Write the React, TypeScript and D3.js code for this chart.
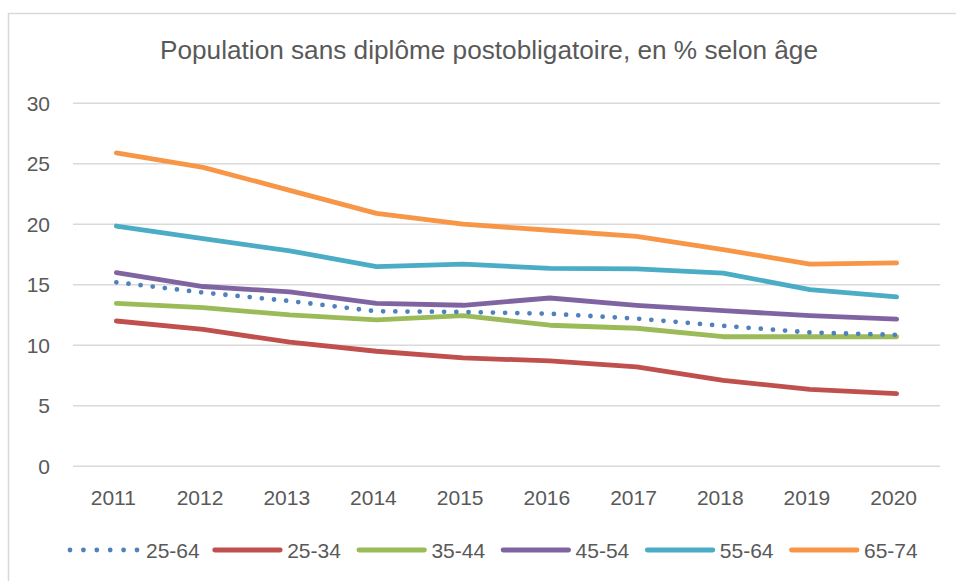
import React, { useRef, useEffect } from 'react';
import * as d3 from 'd3';

const years = ['2011', '2012', '2013', '2014', '2015', '2016', '2017', '2018', '2019', '2020'];
const seriesNames = ['25-64', '25-34', '35-44', '45-54', '55-64', '65-74'];
const seriesColors = ['#4F81BD', '#C0504D', '#9BBB59', '#8064A2', '#4BACC6', '#F79646'];

const v2564 = [15.2, 14.35, 13.65, 12.8, 12.75, 12.6, 12.2, 11.6, 11.05, 10.85];
const v2534 = [12.0, 11.3, 10.25, 9.5, 8.95, 8.7, 8.2, 7.1, 6.35, 6.0];
const v3544 = [13.45, 13.1, 12.5, 12.1, 12.45, 11.65, 11.4, 10.7, 10.7, 10.7];
const v4554 = [16.0, 14.85, 14.4, 13.45, 13.3, 13.9, 13.3, 12.85, 12.45, 12.15];
const v5564 = [19.85, 18.8, 17.8, 16.5, 16.7, 16.35, 16.3, 15.95, 14.6, 14.0];
const v6574 = [25.9, 24.7, 22.8, 20.9, 20.0, 19.5, 19.0, 17.9, 16.7, 16.8];

const yTicks = [0, 5, 10, 15, 20, 25, 30];

const title = 'Population sans diplôme postobligatoire, en % selon âge';

const App: React.FC = () => {
  const svgRef = useRef<SVGSVGElement>(null);
  const width = 956;
  const height = 581;

  useEffect(() => {
    if (!svgRef.current) return;
    const svg = d3.select(svgRef.current);
    svg.selectAll('*').remove();

    const font = '"Liberation Sans", Arial, sans-serif';
    const textColor = '#595959';
    const grid = '#d9d9d9';

    // outer frame
    svg.append('rect')
      .attr('x', 8.5).attr('y', 13.5)
      .attr('width', 970).attr('height', 620)
      .attr('fill', 'white')
      .attr('stroke', grid)
      .attr('stroke-width', 1.5);

    const x = d3.scaleBand().domain(years).range([73, 940]);
    const y = d3.scaleLinear().domain([0, 30]).range([466.2, 103.2]);
    const cx = (d: string) => (x(d) || 0) + x.bandwidth() / 2;

    // title
    svg.append('text')
      .attr('x', 489).attr('y', 59)
      .attr('text-anchor', 'middle')
      .attr('textLength', 658)
      .attr('lengthAdjust', 'spacingAndGlyphs')
      .style('font-family', font)
      .style('font-size', '26px')
      .style('fill', textColor)
      .text(title);

    // gridlines
    svg.append('g')
      .selectAll('line')
      .data(yTicks)
      .join('line')
      .attr('x1', 73).attr('x2', 940)
      .attr('y1', d => y(d)).attr('y2', d => y(d))
      .attr('stroke', grid)
      .attr('stroke-width', 1.5);

    // y tick labels
    svg.append('g')
      .selectAll('text')
      .data(yTicks)
      .join('text')
      .attr('x', 50)
      .attr('y', d => y(d))
      .attr('dy', '0.35em')
      .attr('text-anchor', 'end')
      .style('font-family', font)
      .style('font-size', '21px')
      .style('fill', textColor)
      .text(d => d);

    // x tick labels
    svg.append('g')
      .selectAll('text')
      .data(years)
      .join('text')
      .attr('x', d => cx(d) - 3)
      .attr('y', 505)
      .attr('text-anchor', 'middle')
      .style('font-family', font)
      .style('font-size', '21px')
      .style('fill', textColor)
      .text(d => d);

    const allValues = [v2564, v2534, v3544, v4554, v5564, v6574];
    const line = d3.line<number>()
      .x((_, i) => cx(years[i]))
      .y(d => y(d));

    // draw solid series first, dotted total on top
    const order = [1, 2, 3, 4, 5, 0];
    order.forEach(si => {
      const path = svg.append('path')
        .datum(allValues[si])
        .attr('d', line)
        .attr('fill', 'none')
        .attr('stroke', seriesColors[si])
        .attr('stroke-width', 4.8)
        .attr('stroke-linecap', 'round')
        .attr('stroke-linejoin', 'round');
      if (si === 0) path.attr('stroke-dasharray', '0 12.2');
    });

    // legend
    const legendX = d3.scaleLinear().domain([0, 5]).range([68, 789]);
    const legendY = 550;
    const legend = svg.append('g');
    seriesNames.forEach((name, i) => {
      const lx = legendX(i);
      const item = legend.append('g');
      if (i === 0) {
        item.append('line')
          .attr('x1', lx + 2).attr('x2', lx + 69)
          .attr('y1', legendY).attr('y2', legendY)
          .attr('stroke', seriesColors[i])
          .attr('stroke-width', 4.8)
          .attr('stroke-linecap', 'round')
          .attr('stroke-dasharray', '0 13.4');
      } else {
        item.append('line')
          .attr('x1', lx + 2.5).attr('x2', lx + 68)
          .attr('y1', legendY).attr('y2', legendY)
          .attr('stroke', seriesColors[i])
          .attr('stroke-width', 4.8)
          .attr('stroke-linecap', 'round');
      }
      item.append('text')
        .attr('x', i === 0 ? lx + 78 : lx + 75)
        .attr('y', 558)
        .style('font-family', font)
        .style('font-size', '21px')
        .style('fill', textColor)
        .text(name);
    });
  }, []);

  return (
    <svg
      ref={svgRef}
      width={width}
      height={height}
      style={{ position: 'absolute', left: 0, top: 0, display: 'block', background: 'white' }}
    />
  );
};

export default App;
